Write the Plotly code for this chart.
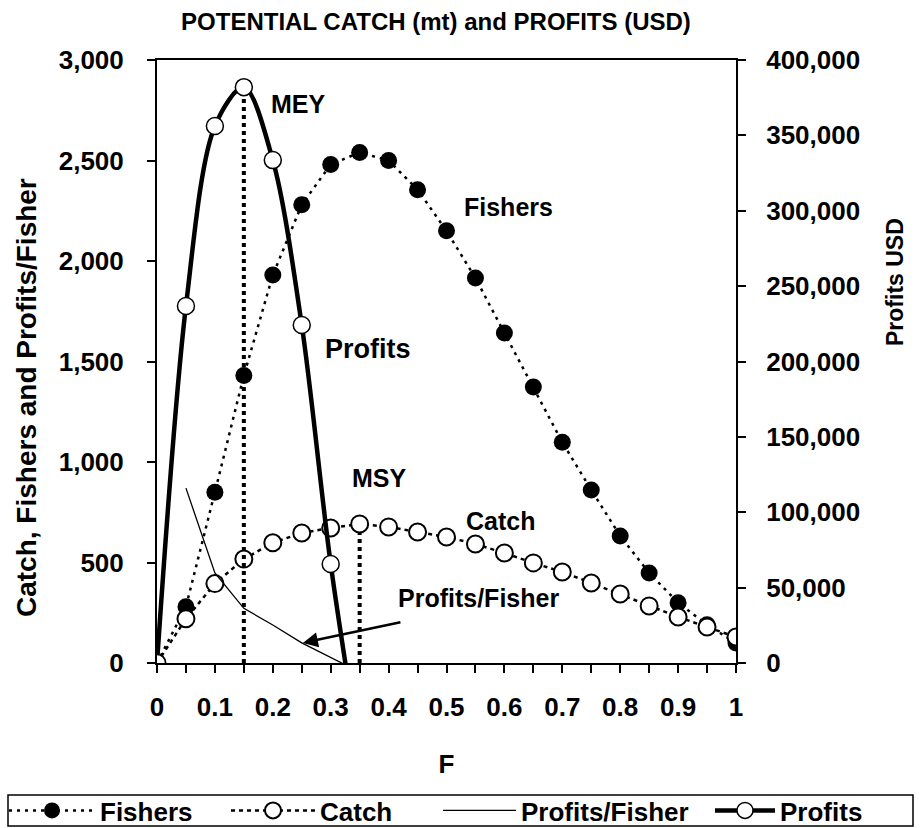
import plotly.graph_objects as go

# ---- data ----
F = [0, 0.05, 0.1, 0.15, 0.2, 0.25, 0.3, 0.35, 0.4, 0.45, 0.5, 0.55, 0.6, 0.65,
     0.7, 0.75, 0.8, 0.85, 0.9, 0.95, 1.0]
fishers = [0, 280, 850, 1430, 1930, 2280, 2480, 2540, 2500, 2355, 2150, 1915,
           1642, 1373, 1098, 861, 632, 448, 300, 190, 100]
catch = [0, 220, 395, 517, 598, 647, 672, 692, 677, 652, 627, 592, 547, 498,
         453, 398, 343, 284, 229, 179, 129]

F_profit = [0, 0.05, 0.1, 0.15, 0.2, 0.25, 0.3, 0.35]
profits = [0, 236800, 356200, 382000, 333600, 224200, 65700, -60000]

F_ppf = [0.05, 0.1, 0.15, 0.2, 0.25, 0.3, 0.35]
profits_per_fisher = [870, 448, 272, 189, 100, 27, -45]

mey_F = 0.15
mey_profit = 382000
msy_F = 0.35
msy_catch = 692

x_ticks = [0, 0.1, 0.2, 0.3, 0.4, 0.5, 0.6, 0.7, 0.8, 0.9, 1]
x_ticklabels = ["0", "0.1", "0.2", "0.3", "0.4", "0.5", "0.6", "0.7", "0.8", "0.9", "1"]

FONT = "Liberation Sans, Arial, sans-serif"

# plot-area geometry (px)
L, R, T, B = 157, 736, 60, 663
W, H = 921, 828
PW, PH = R - L, B - T


def px_x(px):
    return (px - L) / PW


def px_y(py):
    return (B - py) / PH


fig = go.Figure()

# MEY / MSY vertical dotted lines
fig.add_trace(go.Scatter(x=[mey_F, mey_F], y=[0, mey_profit], yaxis="y2", mode="lines",
                         line=dict(color="black", width=4, dash="dot"), showlegend=False,
                         hoverinfo="skip"))
fig.add_trace(go.Scatter(x=[msy_F, msy_F], y=[0, msy_catch], mode="lines",
                         line=dict(color="black", width=4, dash="dot"), showlegend=False,
                         hoverinfo="skip"))

fig.add_trace(go.Scatter(
    x=F, y=fishers, name="Fishers", mode="lines+markers", legend="legend",
    line=dict(color="black", width=2.5, dash="3px,5px"),
    marker=dict(symbol="circle", size=17, color="black")))

fig.add_trace(go.Scatter(
    x=F, y=catch, name="Catch", mode="lines+markers", legend="legend2",
    line=dict(color="black", width=2.5, dash="4px,4px"),
    marker=dict(symbol="circle", size=17, color="white", line=dict(color="black", width=2))))

fig.add_trace(go.Scatter(
    x=F_ppf, y=profits_per_fisher, name="Profits/Fisher", mode="lines", legend="legend3",
    line=dict(color="black", width=1.3)))

fig.add_trace(go.Scatter(
    x=F_profit, y=profits, name="Profits", yaxis="y2", mode="lines+markers",
    legend="legend4",
    line=dict(color="black", width=4.5, shape="spline", smoothing=0.9),
    marker=dict(symbol="circle", size=17, color="white", line=dict(color="black", width=1.5))))

tickfont = dict(family=FONT, size=26, color="black", weight="bold")
lblfont = dict(family=FONT, size=25, color="black", weight="bold")
legfont = dict(family=FONT, size=26, color="black", weight="bold")


def leg(px_start, iw):
    return dict(orientation="h", x=px_x(px_start), xanchor="left", y=px_y(787),
                yanchor="top", borderwidth=0, bgcolor="rgba(0,0,0,0)",
                font=legfont, itemwidth=iw)


fig.update_layout(
    width=W, height=H,
    margin=dict(l=L, r=W - R, t=T, b=H - B, autoexpand=False),
    paper_bgcolor="white", plot_bgcolor="white",
    title=dict(text="POTENTIAL CATCH (mt) and PROFITS (USD)", x=436 / W, xanchor="center",
               y=1 - 22 / H, yanchor="middle",
               font=dict(family=FONT, size=24, color="black", weight="bold")),
    xaxis=dict(range=[0, 1], tickvals=x_ticks, ticktext=x_ticklabels,
               showgrid=False, zeroline=False, showline=True, linecolor="black",
               linewidth=2, mirror=True, ticks="outside", ticklen=8, tickwidth=2,
               tickcolor="black", tickfont=tickfont, ticklabelstandoff=12,
               automargin=False,
               minor=dict(dtick=0.05, ticks="outside", ticklen=8, tickwidth=2,
                          tickcolor="black", showgrid=False),
               title=dict(text="F", font=dict(family=FONT, size=26, color="black",
                                               weight="bold"), standoff=34)),
    yaxis=dict(range=[0, 3000], tickvals=[0, 500, 1000, 1500, 2000, 2500, 3000],
               tickformat=",", showgrid=False, zeroline=False, showline=True,
               linecolor="black", linewidth=2, ticks="outside", ticklen=8,
               tickwidth=2, tickcolor="black", tickfont=tickfont,
               ticklabelstandoff=18, automargin=False),
    yaxis2=dict(range=[0, 400000], overlaying="y", side="right",
                tickvals=[0, 50000, 100000, 150000, 200000, 250000, 300000, 350000, 400000],
                tickformat=",", showgrid=False, zeroline=False, showline=True,
                linecolor="black", linewidth=2, ticks="outside", ticklen=8,
                tickwidth=2, tickcolor="black", tickfont=tickfont,
                ticklabelstandoff=15, automargin=False),
    legend=leg(4, 86),
    legend2=leg(226, 84),
    legend3=leg(438, 73),
    legend4=leg(710, 60),
    showlegend=True,
)

# legend frame
fig.add_shape(type="rect", xref="paper", yref="paper",
              x0=px_x(8), x1=px_x(913), y0=px_y(826), y1=px_y(795),
              line=dict(color="black", width=1.5), fillcolor="rgba(0,0,0,0)")

annotations = [
    dict(text="MEY", x=0.245, y=2780, font=lblfont),
    dict(text="Fishers", x=0.607, y=2270, font=lblfont),
    dict(text="Profits", x=0.365, y=1560, font=dict(family=FONT, size=27, color="black",
                                                     weight="bold")),
    dict(text="MSY", x=0.385, y=920, font=lblfont),
    dict(text="Catch", x=0.593, y=705, font=lblfont),
    dict(text="Profits/Fisher", x=0.555, y=323, font=lblfont),
]
for a in annotations:
    fig.add_annotation(showarrow=False, xref="x", yref="y", **a)

# arrow pointing to the Profits/Fisher line
fig.add_annotation(x=0.252, y=100, ax=0.423, ay=204, xref="x", yref="y",
                   axref="x", ayref="y", text="", showarrow=True,
                   arrowhead=2, arrowsize=1.2, arrowwidth=2.5, arrowcolor="black")

# axis titles placed as in the reference
fig.add_annotation(text="Catch, Fishers and Profits/Fisher", x=px_x(26), y=px_y(398),
                   xref="paper", yref="paper", textangle=-90, showarrow=False,
                   xanchor="center", yanchor="middle",
                   font=dict(family=FONT, size=28, color="black", weight="bold"))
fig.add_annotation(text="Profits USD", x=px_x(895), y=px_y(282), xref="paper",
                   yref="paper", textangle=-90, showarrow=False,
                   xanchor="center", yanchor="middle",
                   font=dict(family=FONT, size=23, color="black", weight="bold"))

fig.write_html("out.html", config={"displayModeBar": False},
               post_script="document.body.style.margin='0';document.body.style.overflow='hidden';")
